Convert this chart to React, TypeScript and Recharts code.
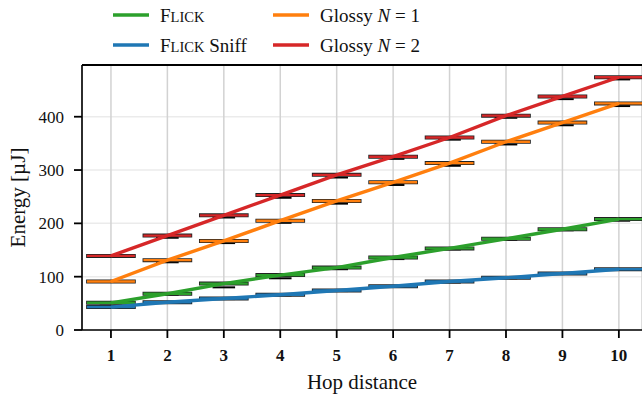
import React from "react";
import {
  ComposedChart,
  XAxis,
  YAxis,
  CartesianGrid,
  Line,
  ReferenceLine,
  Label,
} from "recharts";

// hop distances on the x axis
const hops = [1, 2, 3, 4, 5, 6, 7, 8, 9, 10];
const yTicks = [0, 100, 200, 300, 400];

// median energy per hop [µJ]
const flick = [51, 68, 87, 103, 117, 136, 153, 171, 189, 208];
const flickSniff = [43, 52, 59, 66, 74, 82, 91, 98, 106, 114];
const glossy1 = [91, 131, 167, 205, 242, 277, 313, 353, 389, 425];
const glossy2 = [139, 177, 215, 253, 291, 325, 361, 402, 438, 474];

// lower whisker per hop [µJ]
const flickLow = [50, 66, 80, 97, 114, 133, 151, 169, 187, 205];
const flickSniffLow = [42, 51, 58, 65, 73, 81, 89, 97, 105, 113];
const glossy1Low = [90, 127, 163, 201, 237, 272, 308, 348, 384, 420];
const glossy2Low = [138, 173, 211, 248, 286, 321, 357, 398, 433, 470];

const series = [
  { key: "flick", name: "Flick", values: flick, low: flickLow, color: "#2ca02c" },
  { key: "sniff", name: "Flick Sniff", values: flickSniff, low: flickSniffLow, color: "#1f77b4" },
  { key: "g1", name: "Glossy N = 1", values: glossy1, low: glossy1Low, color: "#ff7f0e" },
  { key: "g2", name: "Glossy N = 2", values: glossy2, low: glossy2Low, color: "#d62728" },
];

const data = hops.map((h, i) => {
  const row: any = { x: h };
  series.forEach((s) => (row[s.key] = s.values[i]));
  return row;
});

const FONT = "'Liberation Serif', 'Times New Roman', serif";
const BOX_HALF = 0.44;
const CAP_HALF = 0.2;

// small caps for Flick, italic N for Glossy
const renderName = (name: string) => {
  if (name.startsWith("Flick")) {
    return (
      <>
        <tspan>F</tspan>
        <tspan fontSize={14.5}>LICK</tspan>
        {name.slice(5)}
      </>
    );
  }
  const m = name.match(/^Glossy N = (\d)$/);
  if (m) {
    return (
      <>
        {"Glossy "}
        <tspan fontStyle="italic">N</tspan>
        {" = " + m[1]}
      </>
    );
  }
  return name;
};

const XTick = ({ x, y, payload }: any) => (
  <text
    x={x}
    y={y + 12}
    textAnchor="middle"
    fontFamily={FONT}
    fontWeight="bold"
    fontSize={17}
    fill="#111"
  >
    {payload.value}
  </text>
);

const YTick = ({ x, y, payload }: any) => (
  <text x={x} y={y + 6} textAnchor="end" fontFamily={FONT} fontSize={17} fill="#111">
    {payload.value}
  </text>
);

const LegendBox = () => (
  <svg
    width={642}
    height={62}
    style={{ position: "absolute", left: 0, top: 0, display: "block" }}
  >
    {series.map((s, i) => {
      const col = Math.floor(i / 2);
      const row = i % 2;
      const x0 = col === 0 ? 113 : 273;
      const y = row === 0 ? 15 : 45;
      return (
        <g key={s.key}>
          <line x1={x0} x2={x0 + 36} y1={y} y2={y} stroke={s.color} strokeWidth={3.5} />
          <text x={x0 + 47} y={y + 6.5} fontFamily={FONT} fontSize={19} fill="#111">
            {renderName(s.name)}
          </text>
        </g>
      );
    })}
  </svg>
);

export default function App() {
  return (
    <div
      style={{
        position: "absolute",
        left: 0,
        top: 0,
        width: 642,
        height: 398,
        background: "#fff",
        fontFamily: FONT,
      }}
    >
      <ComposedChart
        width={642}
        height={398}
        data={data}
        margin={{ top: 65, right: 0, bottom: 0, left: 0 }}
        style={{ fontFamily: FONT }}
      >
        <CartesianGrid vertical={false} stroke="#ebebeb" strokeWidth={1.5} />
        <CartesianGrid horizontal={false} stroke="#d2d2d2" strokeWidth={1.5} />

        <XAxis
          dataKey="x"
          type="number"
          domain={[0.487, 10.41]}
          ticks={hops}
          allowDataOverflow
          height={68}
          axisLine={{ stroke: "#000", strokeWidth: 1.6 }}
          tickLine={{ stroke: "#000", strokeWidth: 1.8 }}
          tickSize={8}
          tickMargin={11}
          tick={<XTick />}
        >
          <Label
            value="Hop distance"
            position="insideBottom"
            offset={9}
            style={{ fontFamily: FONT, fontSize: 21, fill: "#111" }}
          />
        </XAxis>
        <YAxis
          type="number"
          domain={[0, 497]}
          ticks={yTicks}
          allowDataOverflow
          width={82}
          axisLine={{ stroke: "#000", strokeWidth: 1.6 }}
          tickLine={{ stroke: "#000", strokeWidth: 1.8 }}
          tickSize={8}
          tickMargin={10}
          tick={<YTick />}
        >
          <Label
            value="Energy [µJ]"
            angle={-90}
            position="insideLeft"
            offset={18}
            style={{ fontFamily: FONT, fontSize: 21, fill: "#111", textAnchor: "middle" }}
          />
        </YAxis>

        {/* top frame */}
        <ReferenceLine y={497} stroke="#000" strokeWidth={2} ifOverflow="extendDomain" />

        {/* whisker caps */}
        {series.map((s) =>
          s.low.map((v, i) => (
            <ReferenceLine
              key={`cap-${s.key}-${i}`}
              segment={[
                { x: hops[i] - CAP_HALF, y: v },
                { x: hops[i] + CAP_HALF, y: v },
              ]}
              stroke="#000"
              strokeWidth={2}
              ifOverflow="hidden"
            />
          ))
        )}
        {/* boxes: black outline + coloured fill */}
        {series.map((s) =>
          s.values.map((v, i) => (
            <ReferenceLine
              key={`bo-${s.key}-${i}`}
              segment={[
                { x: hops[i] - BOX_HALF, y: v },
                { x: hops[i] + BOX_HALF, y: v },
              ]}
              stroke="#222"
              strokeWidth={4}
              ifOverflow="hidden"
            />
          ))
        )}
        {series.map((s) =>
          s.values.map((v, i) => (
            <ReferenceLine
              key={`bf-${s.key}-${i}`}
              segment={[
                { x: hops[i] - BOX_HALF + 0.015, y: v },
                { x: hops[i] + BOX_HALF - 0.015, y: v },
              ]}
              stroke={s.color}
              strokeWidth={2.4}
              ifOverflow="hidden"
            />
          ))
        )}

        {series.map((s) => (
          <Line
            key={s.key}
            dataKey={s.key}
            name={s.name}
            stroke={s.color}
            strokeWidth={3.4}
            dot={false}
            isAnimationActive={false}
          />
        ))}
      </ComposedChart>
      <LegendBox />
    </div>
  );
}
